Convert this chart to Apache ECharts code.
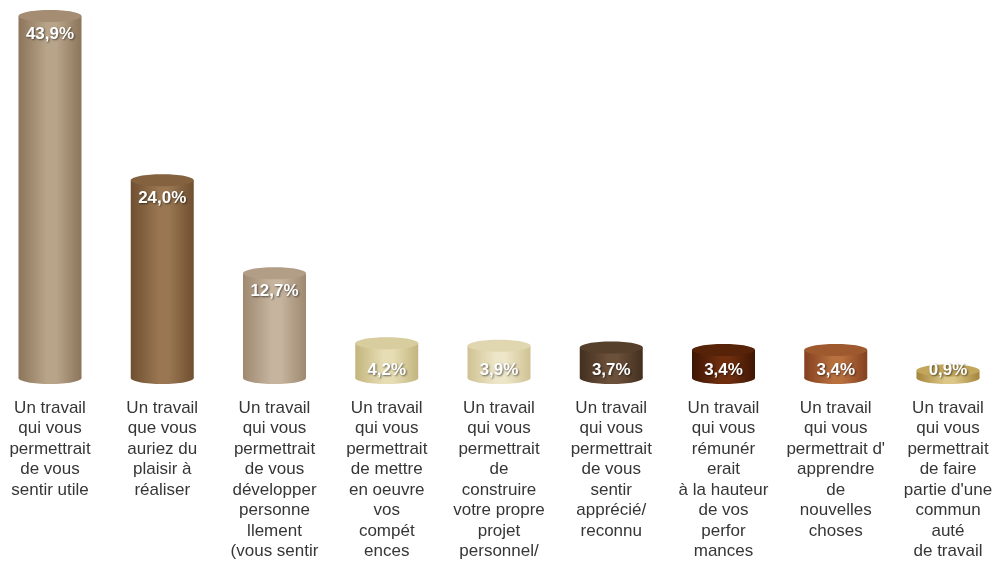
<!DOCTYPE html>
<html>
<head>
<meta charset="utf-8">
<script src="https://cdn.jsdelivr.net/npm/echarts@6/dist/echarts.min.js"></script>
<style>
  html, body { margin: 0; padding: 0; background: #ffffff; }
  #chart { width: 996px; height: 562px; }
</style>
</head>
<body>
<div id="chart"></div>
<script>
// Motivations for a job: share of answers (%)
const categories = [
  "Un travail\nqui vous\npermettrait\nde vous\nsentir utile",
  "Un travail\nque vous\nauriez du\nplaisir à\nréaliser",
  "Un travail\nqui vous\npermettrait\nde vous\ndévelopper\npersonne\nllement\n(vous sentir",
  "Un travail\nqui vous\npermettrait\nde mettre\nen oeuvre\nvos\ncompét\nences",
  "Un travail\nqui vous\npermettrait\nde\nconstruire\nvotre propre\nprojet\npersonnel/",
  "Un travail\nqui vous\npermettrait\nde vous\nsentir\napprécié/\nreconnu",
  "Un travail\nqui vous\nrémunér\nerait\nà la hauteur\nde vos\nperfor\nmances",
  "Un travail\nqui vous\npermettrait d'\napprendre\nde\nnouvelles\nchoses",
  "Un travail\nqui vous\npermettrait\nde faire\npartie d'une\ncommun\nauté\nde travail"
];
const values = [43.9, 24.0, 12.7, 4.2, 3.9, 3.7, 3.4, 3.4, 0.9];

// Cylinder shading per bar: [edge, highlight, top face]
const shades = [
  ["#8c755a", "#b8a489", "#a48d72"],
  ["#6f4f30", "#9a7752", "#84623f"],
  ["#9e8870", "#c6b49e", "#b29d86"],
  ["#c3b57e", "#e6ddb4", "#d8cd9e"],
  ["#cfc293", "#eee6c8", "#e0d6b0"],
  ["#432f1f", "#6b503a", "#56402c"],
  ["#3f1604", "#6e2e0e", "#562208"],
  ["#844020", "#b8703f", "#9e5a2e"],
  ["#a4843a", "#dcc788", "#c2a65c"]
];

const fmt = v => v.toFixed(1).replace('.', ',') + '%';

function renderCylinder(params, api) {
  const i = api.value(0);
  const v = api.value(1);
  const top = api.coord([i, v]);
  const base = api.coord([i, 0]);
  const w = 63, rx = w / 2, ry = 6;
  const cx = top[0], yTop = top[1], yBot = base[1];
  const s = shades[i];
  const grad = new echarts.graphic.LinearGradient(0, 0, 1, 0, [
    { offset: 0, color: s[0] },
    { offset: 0.45, color: s[1] },
    { offset: 0.6, color: s[1] },
    { offset: 1, color: s[0] }
  ]);
  const labelY = (yBot - yTop) > 60 ? yTop + 18 : yBot - 8;
  return {
    type: 'group',
    children: [
      { type: 'ellipse', shape: { cx: cx, cy: yBot, rx: rx, ry: ry }, style: { fill: grad } },
      { type: 'rect', shape: { x: cx - rx, y: yTop, width: w, height: yBot - yTop }, style: { fill: grad } },
      { type: 'ellipse', shape: { cx: cx, cy: yTop, rx: rx, ry: ry }, style: { fill: s[2] } },
      {
        type: 'text',
        x: cx, y: labelY,
        style: {
          text: fmt(v),
          fill: '#ffffff',
          font: 'bold 17px "Liberation Sans", Arial, sans-serif',
          align: 'center',
          verticalAlign: 'middle',
          textShadowColor: 'rgba(0,0,0,0.55)',
          textShadowBlur: 2,
          textShadowOffsetX: 1,
          textShadowOffsetY: 1
        }
      }
    ]
  };
}

const chart = echarts.init(document.getElementById('chart'), null, { renderer: 'canvas' });
chart.setOption({
  animation: false,
  backgroundColor: '#ffffff',
  grid: { left: 50, right: 48, top: 7, bottom: 182 },
  xAxis: {
    type: 'category',
    data: categories,
    boundaryGap: false,
    axisLine: { show: false },
    axisTick: { show: false },
    axisLabel: {
      interval: 0,
      margin: 20,
      color: '#363636',
      fontSize: 17,
      lineHeight: 20.5,
      fontFamily: '"Liberation Sans", Arial, sans-serif',
      verticalAlign: 'top'
    }
  },
  yAxis: {
    type: 'value',
    min: 0,
    max: 45,
    show: false,
    splitLine: { show: false }
  },
  series: [{
    type: 'custom',
    renderItem: renderCylinder,
    encode: { x: 0, y: 1 },
    data: values.map((v, i) => [i, v])
  }]
});
</script>
</body>
</html>
